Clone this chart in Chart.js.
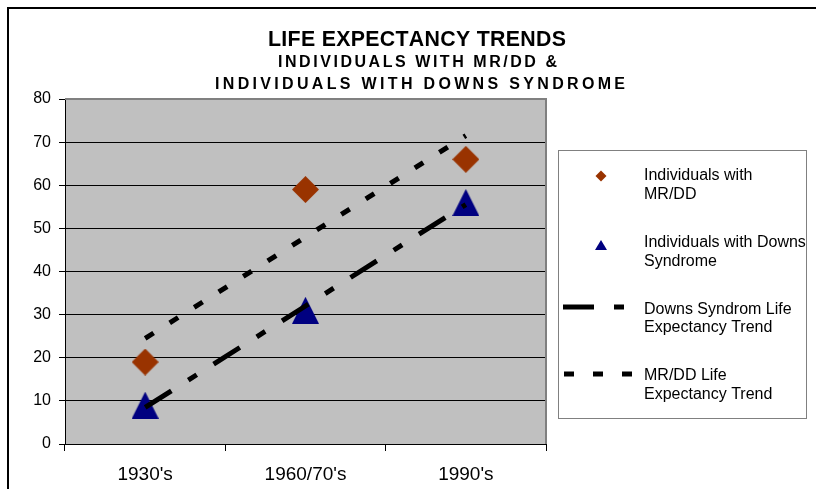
<!DOCTYPE html>
<html>
<head>
<meta charset="utf-8">
<script src="https://cdn.jsdelivr.net/npm/chart.js@4"></script>
<style>
html, body { margin: 0; padding: 0; background: #fff; }
canvas { display: block; }
</style>
</head>
<body>
<canvas id="chart" width="816" height="489"></canvas>
<script>
const categories = ["1930's", "1960/70's", "1990's"];
const mrddValues = [19, 59, 66];
const downsValues = [9, 31, 56];
const downsTrend = [8.5, 32, 55.5];
const mrddTrend = [24.5, 48, 71.5];
const yTicks = [0, 10, 20, 30, 40, 50, 60, 70, 80];

const titleLines = ["LIFE EXPECTANCY TRENDS", "INDIVIDUALS WITH MR/DD &", "INDIVIDUALS WITH DOWNS SYNDROME"];
const legendLines = [
  ["Individuals with", "MR/DD"],
  ["Individuals with Downs", "Syndrome"],
  ["Downs Syndrom Life", "Expectancy Trend"],
  ["MR/DD Life", "Expectancy Trend"]
];

const FONT = '"Liberation Sans", Arial, sans-serif';
const RUST = "#993300";
const NAVY = "#000080";
const downsDash = [31, 20, 10, 20];
const mrddDash = [10, 19];

function makeMarker(shape, size, color) {
  const c = document.createElement("canvas");
  c.width = size;
  c.height = size;
  const g = c.getContext("2d");
  const h = size / 2;
  g.fillStyle = color;
  g.beginPath();
  if (shape === "diamond") {
    g.moveTo(h, 0); g.lineTo(size, h); g.lineTo(h, size); g.lineTo(0, h);
  } else {
    g.moveTo(h, 0); g.lineTo(size, size); g.lineTo(0, size);
  }
  g.closePath();
  g.fill();
  return c;
}

// draw text spread to a given width, letters squeezed by sx
function drawSpaced(ctx, text, cx, y, width, sx) {
  const chars = [...text];
  const ws = chars.map(ch => ctx.measureText(ch).width * sx);
  const total = ws.reduce((a, b) => a + b, 0);
  const gap = (width - total) / (chars.length - 1);
  let x = cx - width / 2;
  ctx.textAlign = "left";
  chars.forEach((ch, i) => {
    ctx.save();
    ctx.translate(x, y);
    ctx.scale(sx, 1);
    ctx.fillText(ch, 0, 0);
    ctx.restore();
    x += ws[i] + gap;
  });
}

const decorPlugin = {
  id: "decor",
  beforeDraw(chart) {
    const ctx = chart.ctx;
    const a = chart.chartArea;
    ctx.save();
    ctx.fillStyle = "#fff";
    ctx.fillRect(0, 0, chart.width, chart.height);
    ctx.fillStyle = "#c0c0c0";
    ctx.fillRect(a.left, a.top, a.right - a.left, a.bottom - a.top);
    ctx.restore();
  },
  beforeDatasetsDraw(chart) {
    const ctx = chart.ctx;
    const a = chart.chartArea;
    ctx.save();
    ctx.strokeStyle = "#808080";
    ctx.lineWidth = 2;
    ctx.beginPath();
    ctx.moveTo(a.left, a.top);
    ctx.lineTo(a.right, a.top);
    ctx.lineTo(a.right, a.bottom);
    ctx.stroke();
    ctx.restore();
  },
  afterDraw(chart) {
    const ctx = chart.ctx;
    ctx.save();

    // outer frame
    ctx.strokeStyle = "#000";
    ctx.lineWidth = 2;
    ctx.strokeRect(8, 8, 900, 600);

    // titles
    ctx.fillStyle = "#000";
    ctx.textBaseline = "alphabetic";
    ctx.font = "bold 22px " + FONT;
    drawSpaced(ctx, titleLines[0], 417, 46, 298, 0.97);
    ctx.font = "bold 16px " + FONT;
    drawSpaced(ctx, titleLines[1], 417.5, 67, 279, 1);
    drawSpaced(ctx, titleLines[2], 420, 89, 410, 1);

    // legend box
    ctx.strokeStyle = "#808080";
    ctx.lineWidth = 1;
    ctx.strokeRect(558.5, 150.5, 248, 268);

    const rows = [176, 245, 307, 374];
    const baselines = [[179.5, 199], [246.5, 266], [313.5, 332], [380, 398.5]];

    // markers / line samples
    ctx.fillStyle = RUST;
    ctx.beginPath();
    ctx.moveTo(601, rows[0] - 5.5); ctx.lineTo(606.5, rows[0]);
    ctx.lineTo(601, rows[0] + 5.5); ctx.lineTo(595.5, rows[0]);
    ctx.closePath(); ctx.fill();

    ctx.fillStyle = NAVY;
    ctx.beginPath();
    ctx.moveTo(601, rows[1] - 5); ctx.lineTo(607, rows[1] + 5); ctx.lineTo(595, rows[1] + 5);
    ctx.closePath(); ctx.fill();

    ctx.strokeStyle = "#000";
    ctx.lineWidth = 5;
    ctx.lineCap = "butt";
    ctx.setLineDash(downsDash);
    ctx.beginPath(); ctx.moveTo(563, rows[2]); ctx.lineTo(628, rows[2]); ctx.stroke();
    ctx.setLineDash(mrddDash);
    ctx.beginPath(); ctx.moveTo(564, rows[3]); ctx.lineTo(632, rows[3]); ctx.stroke();
    ctx.setLineDash([]);

    ctx.fillStyle = "#000";
    ctx.font = "16px " + FONT;
    ctx.textAlign = "left";
    legendLines.forEach((lines, i) => {
      lines.forEach((t, j) => ctx.fillText(t, 644, baselines[i][j]));
    });

    ctx.restore();
  }
};

new Chart(document.getElementById("chart"), {
  type: "line",
  data: {
    labels: categories,
    datasets: [
      {
        label: "Downs Syndrom Life Expectancy Trend",
        data: downsTrend,
        borderColor: "#000",
        borderWidth: 5,
        borderDash: downsDash,
        borderCapStyle: "butt",
        pointRadius: 0,
        fill: false,
        order: 0
      },
      {
        label: "MR/DD Life Expectancy Trend",
        data: mrddTrend,
        borderColor: "#000",
        borderWidth: 5,
        borderDash: mrddDash,
        borderCapStyle: "butt",
        pointRadius: 0,
        fill: false,
        order: 0
      },
      {
        label: "Individuals with MR/DD",
        data: mrddValues,
        showLine: false,
        pointStyle: makeMarker("diamond", 27, RUST),
        pointRadius: 14,
        order: 1
      },
      {
        label: "Individuals with Downs Syndrome",
        data: downsValues,
        showLine: false,
        pointStyle: makeMarker("triangle", 27, NAVY),
        pointRadius: 14,
        order: 1
      }
    ]
  },
  options: {
    responsive: false,
    animation: false,
    events: [],
    layout: { padding: { left: 0, top: 99, right: 270, bottom: 0 } },
    plugins: {
      legend: { display: false },
      title: { display: false },
      tooltip: { enabled: false }
    },
    scales: {
      x: {
        type: "category",
        offset: true,
        grid: { offset: true, drawOnChartArea: false, color: "#000", tickLength: 7 },
        border: { color: "#000", width: 1 },
        ticks: { color: "#000", font: { family: FONT, size: 19 }, padding: 12, maxRotation: 0 },
        afterFit(scale) { scale.height = 45; }
      },
      y: {
        min: 0,
        max: 80,
        grid: { color: "#000", lineWidth: 1, tickLength: 6 },
        border: { color: "#000", width: 1 },
        ticks: { color: "#000", font: { family: FONT, size: 16 }, padding: 8 },
        afterBuildTicks(scale) { scale.ticks = yTicks.map(v => ({ value: v })); },
        afterFit(scale) { scale.width = 65; }
      }
    }
  },
  plugins: [decorPlugin]
});
</script>
</body>
</html>
